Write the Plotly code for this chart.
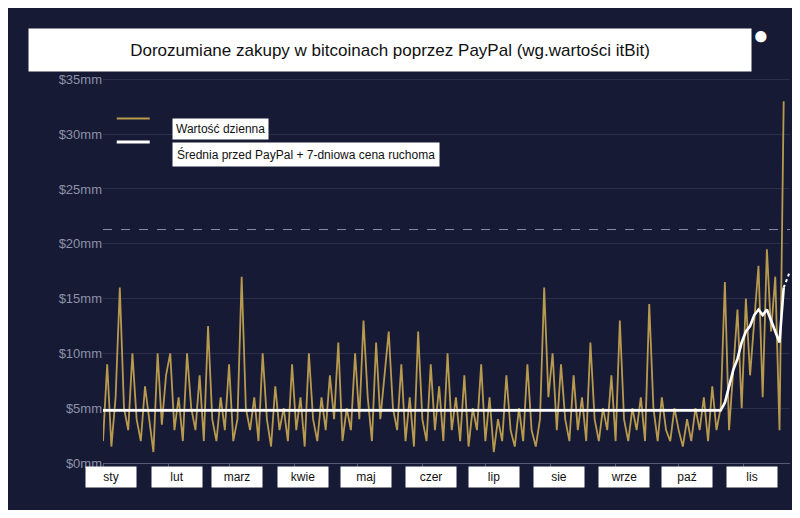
import pandas as pd
import plotly.graph_objects as go

# daily value (in $mm), sampled every 2 days from 1 Jan
daily = [2, 9, 1.5, 6, 16, 5, 3, 10, 4, 2, 7, 4, 1, 10, 3.5,
         8, 10, 3, 6, 2, 10, 5, 3, 8, 2, 12.5, 4, 2, 6, 3,
         9, 2, 4, 17, 5, 3, 6, 2, 10, 4, 1.5, 7, 3, 5, 2,
         9, 3, 6, 1.5, 10, 4, 2, 6, 3, 8, 4, 11, 2, 5, 3,
         10, 4, 13, 6, 2, 11, 4, 8, 12, 5, 3, 9, 2, 6, 1.5,
         12, 4, 2, 9, 3, 7, 2, 10, 3, 6, 2, 8, 1.5, 5, 3,
         9, 2, 6, 1, 4, 2, 8, 3, 1.5, 5, 2, 9, 3, 1.5, 4,
         16, 6, 10, 3, 9, 4, 2, 8, 3, 6, 2, 11, 4, 2, 5,
         3, 8, 2, 13, 4, 2, 5, 3, 6, 2, 14.5, 5, 2, 6, 3,
         2, 5, 3, 1.5, 4, 2, 5, 3, 6, 2, 7, 3, 5,
         16.5, 3, 9, 14, 5, 15, 8, 13, 18, 6, 19.5, 12, 17, 3, 33]
pre_paypal_avg = 4.8
avg_tail = [5.5, 7, 8.5, 9.5, 11, 12, 12.5, 13.5, 14, 13.5, 14, 13, 12, 11, 16]
avg = [pre_paypal_avg] * (len(daily) - len(avg_tail)) + avg_tail
proj_vals = [16, 17.5]
threshold = 21.3

months = ["sty", "lut", "marz", "kwie", "maj", "czer", "lip", "sie", "wrze", "paź", "lis"]

dates = pd.date_range("2020-01-01", periods=len(daily), freq="2D")
proj_dates = [dates[-1], dates[-1] + pd.Timedelta(days=3)]

navy = "#161a35"
fig = go.Figure()
fig.add_trace(go.Scatter(x=dates, y=daily, mode="lines",
                         line=dict(color="#b89a4e", width=1.8)))
fig.add_trace(go.Scatter(x=dates, y=avg, mode="lines",
                         line=dict(color="white", width=2.6)))
fig.add_trace(go.Scatter(x=proj_dates, y=proj_vals, mode="lines",
                         line=dict(color="white", width=2, dash="dot")))
fig.add_hline(y=threshold, line=dict(color="#8a8fa8", width=1, dash="dash"))

shapes = [
    # legend frame
    dict(type="rect", xref="paper", yref="paper", x0=-0.004, x1=0.463, y0=0.727, y1=0.915,
         fillcolor="rgba(0,0,0,0)", line=dict(color="#2e3352", width=1)),
    dict(type="line", xref="paper", yref="paper", x0=0.02, x1=0.068, y0=0.888, y1=0.888,
         line=dict(color="#b89a4e", width=2)),
    dict(type="line", xref="paper", yref="paper", x0=0.02, x1=0.068, y0=0.827, y1=0.827,
         line=dict(color="white", width=3)),
]

annotations = [
    dict(text="Dorozumiane zakupy w bitcoinach poprzez PayPal (wg.wartości itBit)",
         xref="paper", yref="paper", x=0.418, y=1.064, yanchor="middle", showarrow=False,
         bgcolor="white", width=720, height=40, valign="middle",
         font=dict(size=17, color="#111", family="Liberation Sans")),
    dict(text="●", xref="paper", yref="paper", x=0.972, y=1.105, yanchor="middle",
         showarrow=False, font=dict(size=26, color="white")),
    dict(text="Wartość dzienna", xref="paper", yref="paper", x=0.1, y=0.888,
         xanchor="left", showarrow=False, bgcolor="white", borderpad=3,
         font=dict(size=12, color="#111", family="Liberation Sans")),
    dict(text="Średnia przed PayPal + 7-dniowa cena ruchoma", xref="paper", yref="paper",
         x=0.1, y=0.827, xanchor="left", showarrow=False, bgcolor="white", borderpad=4,
         font=dict(size=12, color="#111", family="Liberation Sans")),
]
for i, m in enumerate(months):
    d = pd.Timestamp(2020, i + 1, 5)
    annotations.append(dict(text=m, x=d, xref="x", yref="paper", y=-0.065, showarrow=False,
                            bgcolor="white", borderpad=2, width=46, height=16,
                            font=dict(size=12, color="#111", family="Liberation Sans")))

fig.update_layout(
    width=787, height=502,
    margin=dict(l=95, r=5, t=67, b=47),
    paper_bgcolor=navy, plot_bgcolor=navy,
    showlegend=False,
    shapes=shapes, annotations=annotations,
    xaxis=dict(range=[pd.Timestamp("2020-01-01"), pd.Timestamp("2020-11-23")],
               showgrid=False, showticklabels=False, ticks="outside", ticklen=4,
               tickcolor="#555a75", dtick="M1", tick0="2020-01-01",
               showline=True, linecolor="#555a75", zeroline=False, automargin=False),
    yaxis=dict(range=[0, 35.4], tickvals=[0, 5, 10, 15, 20, 25, 30, 35],
               ticktext=["$0mm", "$5mm", "$10mm", "$15mm", "$20mm", "$25mm", "$30mm", "$35mm"],
               gridcolor="#2a2f4d", zeroline=False, automargin=False,
               tickfont=dict(size=13, color="#8d92a8", family="Liberation Sans")),
)

fig.write_html("out.html")
